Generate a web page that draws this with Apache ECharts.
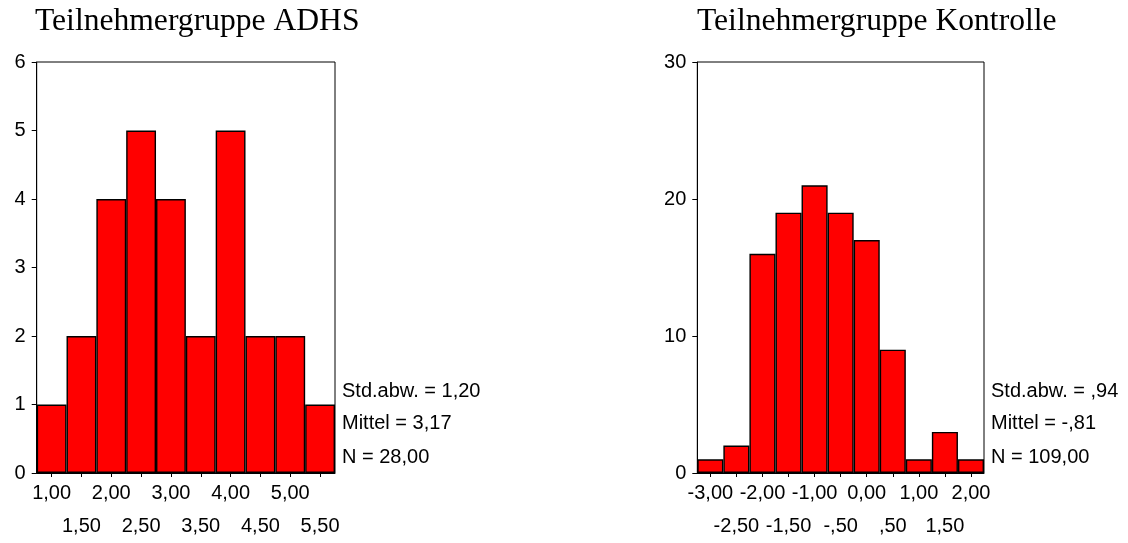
<!DOCTYPE html>
<html>
<head>
<meta charset="utf-8">
<script src="https://cdn.jsdelivr.net/npm/echarts@6/dist/echarts.min.js"></script>
<style>
html,body{margin:0;padding:0;background:#fff;}
#chart{width:1128px;height:543px;}
</style>
</head>
<body>
<div id="chart"></div>
<script>
// Data
const titleA = 'Teilnehmergruppe ADHS';
const titleB = 'Teilnehmergruppe Kontrolle';
const binsA = ['1,00','1,50','2,00','2,50','3,00','3,50','4,00','4,50','5,00','5,50'];
const countsA = [1,2,4,5,4,2,5,2,2,1];
const binsB = ['-3,00','-2,50','-2,00','-1,50','-1,00','-,50','0,00',',50','1,00','1,50','2,00'];
const countsB = [1,2,16,19,21,19,17,9,1,3,1];
const statsA = ['Std.abw. = 1,20','Mittel = 3,17','N = 28,00'];
const statsB = ['Std.abw. = ,94','Mittel = -,81','N = 109,00'];
const yMaxA = 6, yStepA = 1;
const yMaxB = 30, yStepB = 10;

const sans = 'Arial, "Liberation Sans", sans-serif';
const serif = '"Times New Roman", "Liberation Serif", serif';

function xAxis(gi, cats){
  return {
    type:'category', gridIndex:gi, data:cats, boundaryGap:true,
    axisLine:{show:true, lineStyle:{color:'#000', width:1}},
    axisTick:{show:true, alignWithLabel:true, interval:0, length:4, lineStyle:{color:'#000'}},
    axisLabel:{interval:0, color:'#000', fontFamily:sans, fontSize:20, margin:4, lineHeight:33,
      formatter:function(v, i){ return (i % 2) ? '\n' + v : v; }},
    splitLine:{show:false}
  };
}
function yAxis(gi, max, step){
  return {
    type:'value', gridIndex:gi, min:0, max:max, interval:step,
    axisLine:{show:true, lineStyle:{color:'#000', width:1}},
    axisTick:{show:true, length:5, lineStyle:{color:'#000'}},
    axisLabel:{color:'#000', fontFamily:sans, fontSize:20, margin:11},
    splitLine:{show:false}
  };
}
function statTexts(x, lines){
  const ys = [392, 424, 458];
  return lines.map((t, i) => ({
    type:'text', left:x, top:ys[i]-11,
    style:{text:t, fill:'#000', font:'20px ' + sans, textVerticalAlign:'top'}
  }));
}
function barSeries(gi, data){
  return {
    type:'bar', xAxisIndex:gi, yAxisIndex:gi, data:data,
    barCategoryGap:'0%', barGap:'0%',
    itemStyle:{color:'#ff0000', borderColor:'#000', borderWidth:1.4},
    emphasis:{disabled:true}, animation:false
  };
}

const chart = echarts.init(document.getElementById('chart'), null, {renderer:'canvas'});
chart.setOption({
  animation:false,
  backgroundColor:'#fff',
  title:[
    {text:titleA, left:35, top:6, padding:0,
      textStyle:{fontFamily:serif, fontSize:31.6, fontWeight:'normal', color:'#000'}},
    {text:titleB, left:697, top:6, padding:0,
      textStyle:{fontFamily:serif, fontSize:31.6, fontWeight:'normal', color:'#000'}}
  ],
  grid:[
    {left:36.7, top:62, width:298.3, height:411, show:true, borderColor:'#000', borderWidth:1, backgroundColor:'transparent', containLabel:false},
    {left:697.3, top:62, width:286.7, height:411, show:true, borderColor:'#000', borderWidth:1, backgroundColor:'transparent', containLabel:false}
  ],
  xAxis:[xAxis(0, binsA), xAxis(1, binsB)],
  yAxis:[yAxis(0, yMaxA, yStepA), yAxis(1, yMaxB, yStepB)],
  series:[barSeries(0, countsA), barSeries(1, countsB)],
  graphic:[].concat(statTexts(342, statsA), statTexts(991, statsB))
});
</script>
</body>
</html>
